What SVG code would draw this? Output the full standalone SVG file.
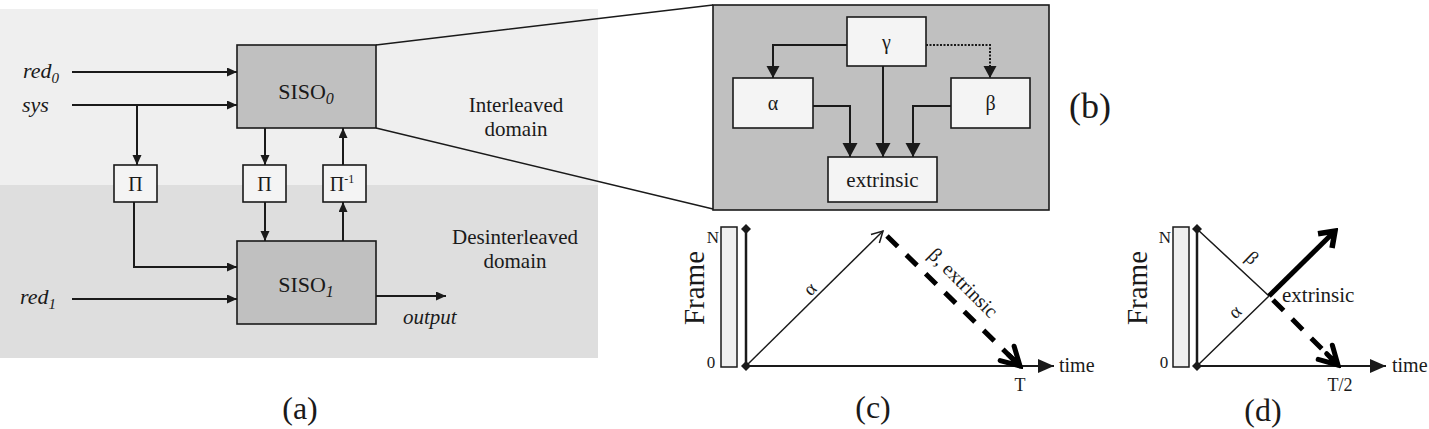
<svg xmlns="http://www.w3.org/2000/svg" width="1429" height="429" viewBox="0 0 1429 429" font-family="'Liberation Serif', 'Times New Roman', serif">
<style>
text{font-family:"Liberation Serif","Times New Roman",serif;fill:#1a1a1a}
.ln{stroke:#1a1a1a;stroke-width:2;fill:none}
.thin{stroke:#1a1a1a;stroke-width:1.5;fill:none}
.box{fill:#c0c0c0;stroke:#1a1a1a;stroke-width:1.6}
.wbox{fill:#f4f4f4;stroke:#1a1a1a;stroke-width:1.6}
.it{font-style:italic}
.lbl{font-size:32px;text-anchor:middle}
.mid{text-anchor:middle}
</style>
<defs>
<marker id="arrA" markerUnits="userSpaceOnUse" markerWidth="11" markerHeight="10" refX="10" refY="4.5" orient="auto"><path d="M0,0 L10,4.5 L0,9 z" fill="#1a1a1a"/></marker>
<marker id="arrB" markerUnits="userSpaceOnUse" markerWidth="13" markerHeight="14" refX="12" refY="6.5" orient="auto"><path d="M0,0 L12,6.5 L0,13 z" fill="#1a1a1a"/></marker>
<marker id="arrBT" markerUnits="userSpaceOnUse" markerWidth="15" markerHeight="16" refX="14" refY="7.5" orient="auto"><path d="M0,0 L14,7.5 L0,15 z" fill="#1a1a1a"/></marker>
<marker id="arrAx" markerUnits="userSpaceOnUse" markerWidth="17" markerHeight="14" refX="16" refY="7" orient="auto"><path d="M0,0 L16,7 L0,14 z" fill="#1a1a1a"/></marker>
<marker id="arrOpen" markerUnits="userSpaceOnUse" markerWidth="14" markerHeight="14" refX="12" refY="7" orient="auto"><path d="M1,1 L12,7 L1,13" fill="none" stroke="#1a1a1a" stroke-width="1.5"/></marker>
<marker id="arrThick" markerUnits="userSpaceOnUse" markerWidth="22" markerHeight="26" refX="18" refY="13" orient="auto"><path d="M4,3 L18,13 L4,23" fill="none" stroke="#000" stroke-width="5.5" stroke-linejoin="miter"/></marker>
<marker id="feather" markerUnits="userSpaceOnUse" markerWidth="26" markerHeight="26" refX="22" refY="13" orient="auto"><path d="M4,3 L22,13 L4,23 M6,13 L22,13" fill="none" stroke="#000" stroke-width="5" stroke-linecap="round"/></marker>
<marker id="dia" markerUnits="userSpaceOnUse" markerWidth="10" markerHeight="10" refX="5" refY="5" orient="0"><path d="M5,0 L10,5 L5,10 L0,5 z" fill="#1a1a1a"/></marker>
</defs>

<!-- panel (a) backgrounds -->
<rect x="0" y="9" width="598" height="176" fill="#efefef"/>
<rect x="0" y="185" width="598" height="173" fill="#dedede"/>

<!-- zoom lines -->
<g id="zoomlines">
<path class="thin" d="M376,45 L713,5 M376,128 L713,209"/>
</g>

<g id="siso0"><rect class="box" x="237" y="45" width="139" height="83"/><text x="306" y="99" font-size="22" class="mid">SISO<tspan class="it" font-size="16" dy="5">0</tspan></text></g>
<g id="siso1"><rect class="box" x="237" y="241" width="139" height="83"/><text x="306" y="292" font-size="22" class="mid">SISO<tspan class="it" font-size="16" dy="5">1</tspan></text></g>
<g id="pi1"><rect class="wbox" x="114" y="165" width="43" height="37"/><text x="135.5" y="191" font-size="20" class="mid">Π</text></g>
<g id="pi2"><rect class="wbox" x="243" y="165" width="43" height="37"/><text x="264.5" y="191" font-size="20" class="mid">Π</text></g>
<g id="pi3"><rect class="wbox" x="323" y="165" width="43" height="37"/><text x="342" y="191" font-size="20" class="mid">Π<tspan font-size="12" dy="-8">-1</tspan></text></g>

<g id="labels-a">
<text x="23" y="78" font-size="22" class="it">red<tspan font-size="15" dy="5">0</tspan></text>
<text x="22" y="112" font-size="22" class="it">sys</text>
<text x="20" y="304" font-size="22" class="it">red<tspan font-size="15" dy="5">1</tspan></text>
<text x="403" y="324" font-size="21" class="it">output</text>
<text x="516" y="112" font-size="21" class="mid">Interleaved</text>
<text x="516" y="136" font-size="21" class="mid">domain</text>
<text x="515" y="244" font-size="21" class="mid">Desinterleaved</text>
<text x="515" y="268" font-size="21" class="mid">domain</text>
<text x="300" y="419" class="lbl">(a)</text>
</g>

<g id="connectors-a">
<path class="ln" d="M72,72 L237,72" marker-end="url(#arrA)"/>
<path class="ln" d="M72,105 L237,105" marker-end="url(#arrA)"/>
<path class="ln" d="M137,105 L137,165" marker-end="url(#arrA)"/>
<path class="ln" d="M265,128 L265,165" marker-end="url(#arrA)"/>
<path class="ln" d="M343,165 L343,128" marker-end="url(#arrA)"/>
<path class="ln" d="M134,202 L134,267 L237,267" marker-end="url(#arrA)"/>
<path class="ln" d="M265,202 L265,241" marker-end="url(#arrA)"/>
<path class="ln" d="M343,241 L343,202" marker-end="url(#arrA)"/>
<path class="ln" d="M72,299 L237,299" marker-end="url(#arrA)"/>
<path class="ln" d="M376,296 L446,296" marker-end="url(#arrA)"/>
</g>

<!-- panel (b) -->
<g id="panel-b"><rect class="box" x="713" y="5" width="336" height="205"/></g>
<g id="gamma"><rect class="wbox" x="847" y="17" width="79" height="49"/><text x="886.5" y="49" font-size="20" class="mid">γ</text></g>
<g id="alpha"><rect class="wbox" x="733" y="78" width="80" height="50"/><text x="773" y="110" font-size="20" class="mid">α</text></g>
<g id="beta"><rect class="wbox" x="951" y="78" width="79" height="50"/><text x="990.5" y="110" font-size="20" class="mid">β</text></g>
<g id="extrinsic"><rect class="wbox" x="828" y="157" width="109" height="45"/><text x="882.5" y="187" font-size="21" class="mid">extrinsic</text></g>
<g id="connectors-b">
<path class="ln" d="M847,45 L773,45 L773,78" marker-end="url(#arrB)"/>
<path class="ln" d="M926,45 L990,45 L990,78" stroke-dasharray="2 1.5" marker-end="url(#arrB)"/>
<path class="ln" stroke-width="5" d="M883,66 L883,157" marker-end="url(#arrBT)"/>
<path class="ln" stroke-width="5" d="M813,106 L850,106 L850,157" marker-end="url(#arrBT)"/>
<path class="ln" stroke-width="5" d="M951,106 L913,106 L913,157" marker-end="url(#arrBT)"/>
</g>
<text x="1090" y="118" font-size="36" class="mid">(b)</text>

<!-- panel (c) -->
<g id="panel-c">
<rect x="721" y="227" width="16" height="140" fill="#efefef" stroke="#1a1a1a" stroke-width="1.5"/>
<path d="M746,229 L746,366" stroke="#1a1a1a" stroke-width="2.5" marker-start="url(#dia)" marker-end="url(#dia)"/>
<path class="ln" d="M746,366 L1054,366" marker-end="url(#arrAx)"/>
<path class="thin" d="M746,366 L883,231" marker-end="url(#arrOpen)"/>
<path d="M887,236 L1020,366" fill="none" stroke="#000" stroke-width="5" stroke-dasharray="15 12" marker-end="url(#feather)"/>
<text x="713" y="243" font-size="17" class="mid">N</text>
<text x="711" y="368" font-size="17" class="mid">0</text>
<text x="1059" y="372" font-size="20">time</text>
<text x="1020" y="391" font-size="18" class="mid">T</text>
<text x="810" y="295" font-size="19" class="mid" transform="rotate(-45 810 289)">α</text>
<text x="927" y="256" font-size="20" transform="rotate(45 927 256)">β, extrinsic</text>
<text x="713" y="297" font-size="29" class="mid" transform="rotate(-90 704 297)">Frame</text>
<text x="873" y="418" class="lbl">(c)</text>
</g>

<!-- panel (d) -->
<g id="panel-d">
<rect x="1173" y="227" width="16" height="140" fill="#efefef" stroke="#1a1a1a" stroke-width="1.5"/>
<path d="M1197,229 L1197,366" stroke="#1a1a1a" stroke-width="2.5" marker-start="url(#dia)" marker-end="url(#dia)"/>
<path class="ln" d="M1197,366 L1386,366" marker-end="url(#arrAx)"/>
<path class="thin" d="M1197,229 L1269,296 M1197,366 L1269,296"/>
<path d="M1269,296 L1335,231" fill="none" stroke="#000" stroke-width="5" marker-end="url(#arrThick)"/>
<path d="M1273,300 L1338,365" fill="none" stroke="#000" stroke-width="5" stroke-dasharray="15 12" marker-end="url(#feather)"/>
<text x="1165" y="243" font-size="17" class="mid">N</text>
<text x="1164" y="368" font-size="17" class="mid">0</text>
<text x="1392" y="372" font-size="20">time</text>
<text x="1340" y="391" font-size="18" class="mid">T/2</text>
<text x="1282" y="302" font-size="21">extrinsic</text>
<text x="1252" y="264" font-size="19" class="mid" transform="rotate(44 1252 258)">β</text>
<text x="1235" y="318" font-size="19" class="mid" transform="rotate(-44 1235 312)">α</text>
<text x="1156" y="297" font-size="29" class="mid" transform="rotate(-90 1147 297)">Frame</text>
<text x="1263" y="421" class="lbl">(d)</text>
</g>
</svg>
